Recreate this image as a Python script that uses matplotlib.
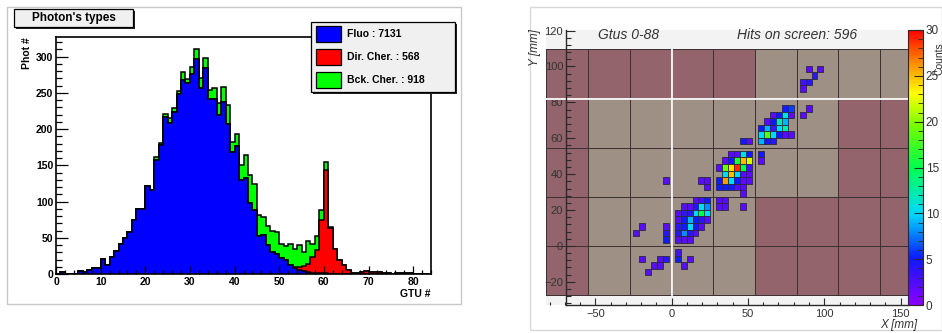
import numpy as np
import matplotlib
matplotlib.use("Agg")
import matplotlib.pyplot as plt
from matplotlib.patches import Rectangle
from matplotlib.colors import LinearSegmentedColormap, Normalize, ListedColormap
from matplotlib.cm import ScalarMappable
from matplotlib.ticker import MultipleLocator

# ------------------------------------------------------------------ data: left panel
gtu_bin_edges = np.arange(0, 85)
fluo = [0, 3, 0, 0, 0, 4, 3, 5, 8, 8,
        21, 13, 24, 32, 42, 50, 58, 75, 89, 89,
        122, 116, 157, 178, 216, 209, 224, 248, 268, 263,
        276, 296, 257, 284, 241, 241, 219, 237, 207, 169,
        177, 130, 132, 98, 88, 52, 54, 40, 30, 28,
        22, 19, 13, 8, 6, 4, 3, 2, 1, 1,
        1, 0, 0, 0, 0, 0, 0, 0, 0, 0,
        0, 0, 0, 0, 0, 0, 0, 0, 0, 0,
        0, 0, 0, 0]
dir_cher = [0] * 53 + [1, 4, 7, 11, 21, 32, 74, 142, 64, 35,
                       20, 13, 6, 2, 2, 3, 4, 3, 3, 3,
                       2, 1, 0, 1, 2, 2, 1, 0, 0, 0, 0]
bck_cher = [0] * 22 + [4, 3, 5, 6, 5, 4, 11, 6, 9, 15,
                       14, 14, 13, 15, 17, 21, 26, 13, 16, 21,
                       32, 38, 36, 29, 25, 26, 30, 30, 19, 20,
                       28, 25, 30, 19, 32, 19, 19, 13, 11, 1] + [0] * 22
legend_labels = ["Fluo : 7131", "Dir. Cher. : 568", "Bck. Cher. : 918"]
legend_colors = ["#0000ff", "#ff0000", "#00ff00"]
hist_title = "Photon's types"

# ------------------------------------------------------------------ data: right panel
pmt_x_edges = [-82.4, -54.6, -27.3, 0.0, 27.3, 54.6, 81.9, 109.2, 136.5, 154.9]
pmt_y_edges = [-27.3, 0.0, 27.3, 54.6, 81.9, 109.7]
pmt_in_fov = [[0, 1, 1, 1, 1, 0, 0, 0, 0],
              [0, 1, 1, 1, 1, 0, 0, 0, 0],
              [0, 1, 1, 1, 1, 1, 1, 0, 0],
              [0, 1, 1, 1, 1, 1, 1, 0, 0],
              [0, 0, 0, 0, 0, 1, 1, 1, 1]]
hit_col = [23, 25, 24, 22, 23, 22, 23, 22,
           19, 20, 17, 18, 19, 20, 16, 17, 18, 19, 15, 16, 17, 18, 19,
           15, 16, 17, 18, 19, 20, 15, 16, 17, 12, 13,
           10, 11, 12, 13, 15, 9, 10, 11, 12, 13, 15, 8, 9, 10, 11, 12, 13,
           9, 10, 11, 12, 13, -1, 5, 6, 8, 9, 10, 11, 12, 13,
           6, 8, 9, 10, 11, 12, 12, 8, 9, 8, 9, 12,
           4, 5, 6, 2, 3, 4, 5, 6, 1, 2, 3, 4, 5, 6, 1, 2, 3, 4, 5, 6,
           1, 2, 3, 4, 5, 1, 2, 3, 4, 1, 2, 3,
           -5, -6, -1, -1, -1, 1, 1, 3, 2, -5, -2, -1, -3, -2, -4]
hit_row = [27, 27, 26, 25, 25, 24, 21, 20,
           21, 21, 20, 20, 20, 20, 19, 19, 19, 19, 18, 18, 18, 18, 18,
           17, 17, 17, 17, 17, 17, 16, 16, 16, 16, 16,
           14, 14, 14, 14, 14, 13, 13, 13, 13, 13, 13, 12, 12, 12, 12, 12, 12,
           11, 11, 11, 11, 11, 10, 10, 10, 10, 10, 10, 10, 10, 10,
           9, 9, 9, 9, 9, 9, 8, 7, 7, 6, 6, 6,
           7, 7, 7, 6, 6, 6, 6, 6, 5, 5, 5, 5, 5, 5, 4, 4, 4, 4, 4, 4,
           3, 3, 3, 3, 3, 2, 2, 2, 2, 1, 1, 1,
           3, 2, 3, 2, 1, -1, -2, -2, -3, -2, -2, -2, -3, -3, -4]
hit_counts = [2, 2, 4, 3, 4, 2, 2, 2,
              5, 6, 2, 5, 11, 2, 2, 5, 12, 9, 5, 9, 3, 10, 12,
              10, 18, 10, 5, 2, 2, 9, 5, 4, 5, 2,
              2, 2, 11, 5, 5, 2, 5, 16, 25, 22, 2, 2, 19, 24, 29, 15, 3,
              10, 25, 10, 2, 2, 2, 2, 2, 5, 26, 10, 5, 2, 2,
              2, 5, 5, 5, 2, 2, 2, 2, 2, 2, 2, 2,
              2, 3, 5, 2, 2, 4, 10, 8, 2, 4, 4, 10, 15, 10, 2, 5, 9, 5, 4, 2,
              4, 5, 10, 5, 2, 4, 8, 4, 2, 2, 2, 2,
              2, 2, 2, 4, 5, 3, 5, 2, 2, 2, 2, 4, 2, 2, 2]
pixel_pitch_x = 3.9
pixel_pitch_y = 3.65
cbar_ticks = [0, 5, 10, 15, 20, 25, 30]

# ------------------------------------------------------------------ figure helpers
W, H = 942, 333
fig = plt.figure(figsize=(W / 100, H / 100), dpi=100, facecolor="white")
FONT = "Liberation Sans"


def fx(x):
    return x / W


def fy(y):
    return 1 - y / H


def frect(x0, y0, x1, y1, **kw):
    r = Rectangle((fx(x0), fy(y1)), (x1 - x0) / W, (y1 - y0) / H,
                  transform=fig.transFigure, **kw)
    fig.add_artist(r)
    return r


# canvas borders
frect(7, 7, 461, 304, facecolor="none", edgecolor="#c8c8c8", lw=1.0)
frect(530, 7, 941.5, 330, facecolor="none", edgecolor="#d8d8d8", lw=1.0)

# ------------------------------------------------------------------ left panel
ax1 = fig.add_axes([fx(56), fy(274), 375 / W, 237 / H])
fl = np.array(fluo, float)
dc = np.array(dir_cher, float)
bc = np.array(bck_cher, float)
lay_blue = fl
lay_red = fl + dc
lay_green = fl + dc + bc
for lay, col in [(lay_green, legend_colors[2]), (lay_red, legend_colors[1]),
                 (lay_blue, legend_colors[0])]:
    ax1.stairs(lay, gtu_bin_edges, fill=True, facecolor=col, edgecolor="none")
    ax1.stairs(lay, gtu_bin_edges, color="black", lw=1.1)
ax1.set_xlim(0, 84)
ax1.set_ylim(0, 327)
ax1.xaxis.set_major_locator(MultipleLocator(10))
ax1.xaxis.set_minor_locator(MultipleLocator(2))
ax1.yaxis.set_major_locator(MultipleLocator(50))
ax1.yaxis.set_minor_locator(MultipleLocator(10))
ax1.tick_params(which="both", direction="in", top=False, right=False, width=0.9,
                labelsize=7.5, colors="black")
ax1.tick_params(axis="y", which="major", length=8.5, pad=2)
ax1.tick_params(axis="y", which="minor", length=4.5)
ax1.tick_params(axis="x", which="major", length=5.5, pad=2)
ax1.tick_params(axis="x", which="minor", length=3)
for lab in ax1.get_xticklabels() + ax1.get_yticklabels():
    lab.set_fontfamily(FONT)
    lab.set_fontweight("bold")
for s in ax1.spines.values():
    s.set_linewidth(1.2)
ax1.text(-0.077, 1.0, "Phot #", transform=ax1.transAxes, rotation=90, ha="center",
         va="top", fontsize=7.5, fontweight="bold", family=FONT)
ax1.text(1.0, -0.084, "GTU #", transform=ax1.transAxes, ha="right", va="center",
         fontsize=7.5, fontweight="bold", family=FONT)

# title box
frect(16, 11, 135, 28.5, facecolor="#222222", edgecolor="none")
frect(14, 9.3, 133, 26.7, facecolor="#f0f0f0", edgecolor="black", lw=0.9)
fig.text(fx(73.5), fy(18.2), hist_title, ha="center", va="center", fontsize=8.5,
         fontweight="bold", family=FONT)

# legend box
frect(313, 24, 457, 94, facecolor="#222222", edgecolor="none")
frect(311, 22, 455, 92, facecolor="#f0f0f0", edgecolor="black", lw=0.9)
for i, (lab, col) in enumerate(zip(legend_labels, legend_colors)):
    yc = 34 + i * 23.2
    frect(316, yc - 8, 341, yc + 8, facecolor=col, edgecolor="black", lw=0.9)
    fig.text(fx(347), fy(yc), lab, ha="left", va="center", fontsize=7.5,
             fontweight="bold", family=FONT)

# ------------------------------------------------------------------ right panel
ax2 = fig.add_axes([fx(546), fy(305), 362 / W, 275 / H])
ax2.set_facecolor("#f3f3f3")
ax2.set_xlim(-82.4, 154.9)
ax2.set_ylim(-32.9, 120.3)

pmt_cmap = ListedColormap(["#93646c", "#9e9085"])
ax2.pcolormesh(pmt_x_edges, pmt_y_edges, np.array(pmt_in_fov), cmap=pmt_cmap,
               vmin=0, vmax=1, edgecolors="#3c3234", linewidth=0.6)
ax2.plot([pmt_x_edges[3], pmt_x_edges[3]], [pmt_y_edges[0], pmt_y_edges[-1]],
         color="white", lw=1.3)
ax2.plot([pmt_x_edges[0], pmt_x_edges[-1]], [pmt_y_edges[4], pmt_y_edges[4]],
         color="white", lw=1.3)

hits_cmap = LinearSegmentedColormap.from_list("rootpal", [
    (0.00, (0.55, 0.0, 1.0)),
    (0.17, (0.05, 0.1, 1.0)),
    (0.33, (0.0, 0.85, 1.0)),
    (0.50, (0.0, 1.0, 0.3)),
    (0.65, (0.45, 1.0, 0.0)),
    (0.77, (1.0, 1.0, 0.0)),
    (0.88, (1.0, 0.55, 0.0)),
    (1.00, (1.0, 0.0, 0.0))])
norm = Normalize(0, 30)
hx = np.array(hit_col) * pixel_pitch_x
hy = np.array(hit_row) * pixel_pitch_y
hc = np.array(hit_counts, float)
ax2.bar(hx, pixel_pitch_y, width=pixel_pitch_x, bottom=hy - pixel_pitch_y / 2,
        color=hits_cmap(norm(hc)), edgecolor="#2a2a3a", linewidth=0.6, zorder=3)

for side in ["top", "right"]:
    ax2.spines[side].set_visible(False)
ax2.spines["left"].set_position(("data", -69.3))
ax2.spines["bottom"].set_bounds(-69.3, 154.9)
for side in ["left", "bottom"]:
    ax2.spines[side].set_color("#2a2a2a")
    ax2.spines[side].set_linewidth(1.0)
    ax2.spines[side].set_zorder(5)
ax2.xaxis.set_major_locator(MultipleLocator(50))
ax2.xaxis.set_minor_locator(MultipleLocator(10))
ax2.yaxis.set_major_locator(MultipleLocator(20))
ax2.yaxis.set_minor_locator(MultipleLocator(4))
ax2.tick_params(which="both", direction="in", color="#2a2a2a", labelcolor="#333333",
                labelsize=8, width=0.8)
ax2.tick_params(axis="y", which="major", length=6.5, pad=2)
ax2.tick_params(axis="y", which="minor", length=3.5)
ax2.tick_params(axis="x", which="major", length=5, pad=3)
ax2.tick_params(axis="x", which="minor", length=2.5)
for lab in ax2.get_xticklabels() + ax2.get_yticklabels():
    lab.set_fontfamily(FONT)

fig.text(fx(629), fy(35), "Gtus 0-88", ha="center", va="center", fontsize=10,
         style="italic", color="#333333", family=FONT)
fig.text(fx(797), fy(35), "Hits on screen: 596", ha="center", va="center",
         fontsize=10, style="italic", color="#333333", family=FONT)
fig.text(fx(535), fy(29), "Y [mm]", rotation=90, ha="center", va="top", fontsize=8.5,
         style="italic", color="#333333", family=FONT)
fig.text(fx(917), fy(325), "X [mm]", ha="right", va="center", fontsize=8.5,
         style="italic", color="#333333", family=FONT)

cax = fig.add_axes([fx(908), fy(305), 15 / W, 275 / H])
cb = fig.colorbar(ScalarMappable(norm=norm, cmap=hits_cmap), cax=cax)
cb.set_ticks(cbar_ticks)
cb.ax.yaxis.set_minor_locator(MultipleLocator(1))
cb.ax.tick_params(which="both", direction="in", color="#2a2a2a", labelcolor="#333333",
                  labelsize=8.5, pad=2)
cb.ax.tick_params(which="major", length=6.5, width=0.8)
cb.ax.tick_params(which="minor", length=3.5, width=0.6)
for lab in cb.ax.get_yticklabels():
    lab.set_fontfamily(FONT)
cb.outline.set_edgecolor("#2a2a2a")
cb.outline.set_linewidth(0.8)
fig.text(fx(934.5), fy(42), "Counts", rotation=90, ha="left", va="top", fontsize=7.5,
         color="#333333", family=FONT)

fig.savefig("out.png", dpi=100, facecolor="white")
